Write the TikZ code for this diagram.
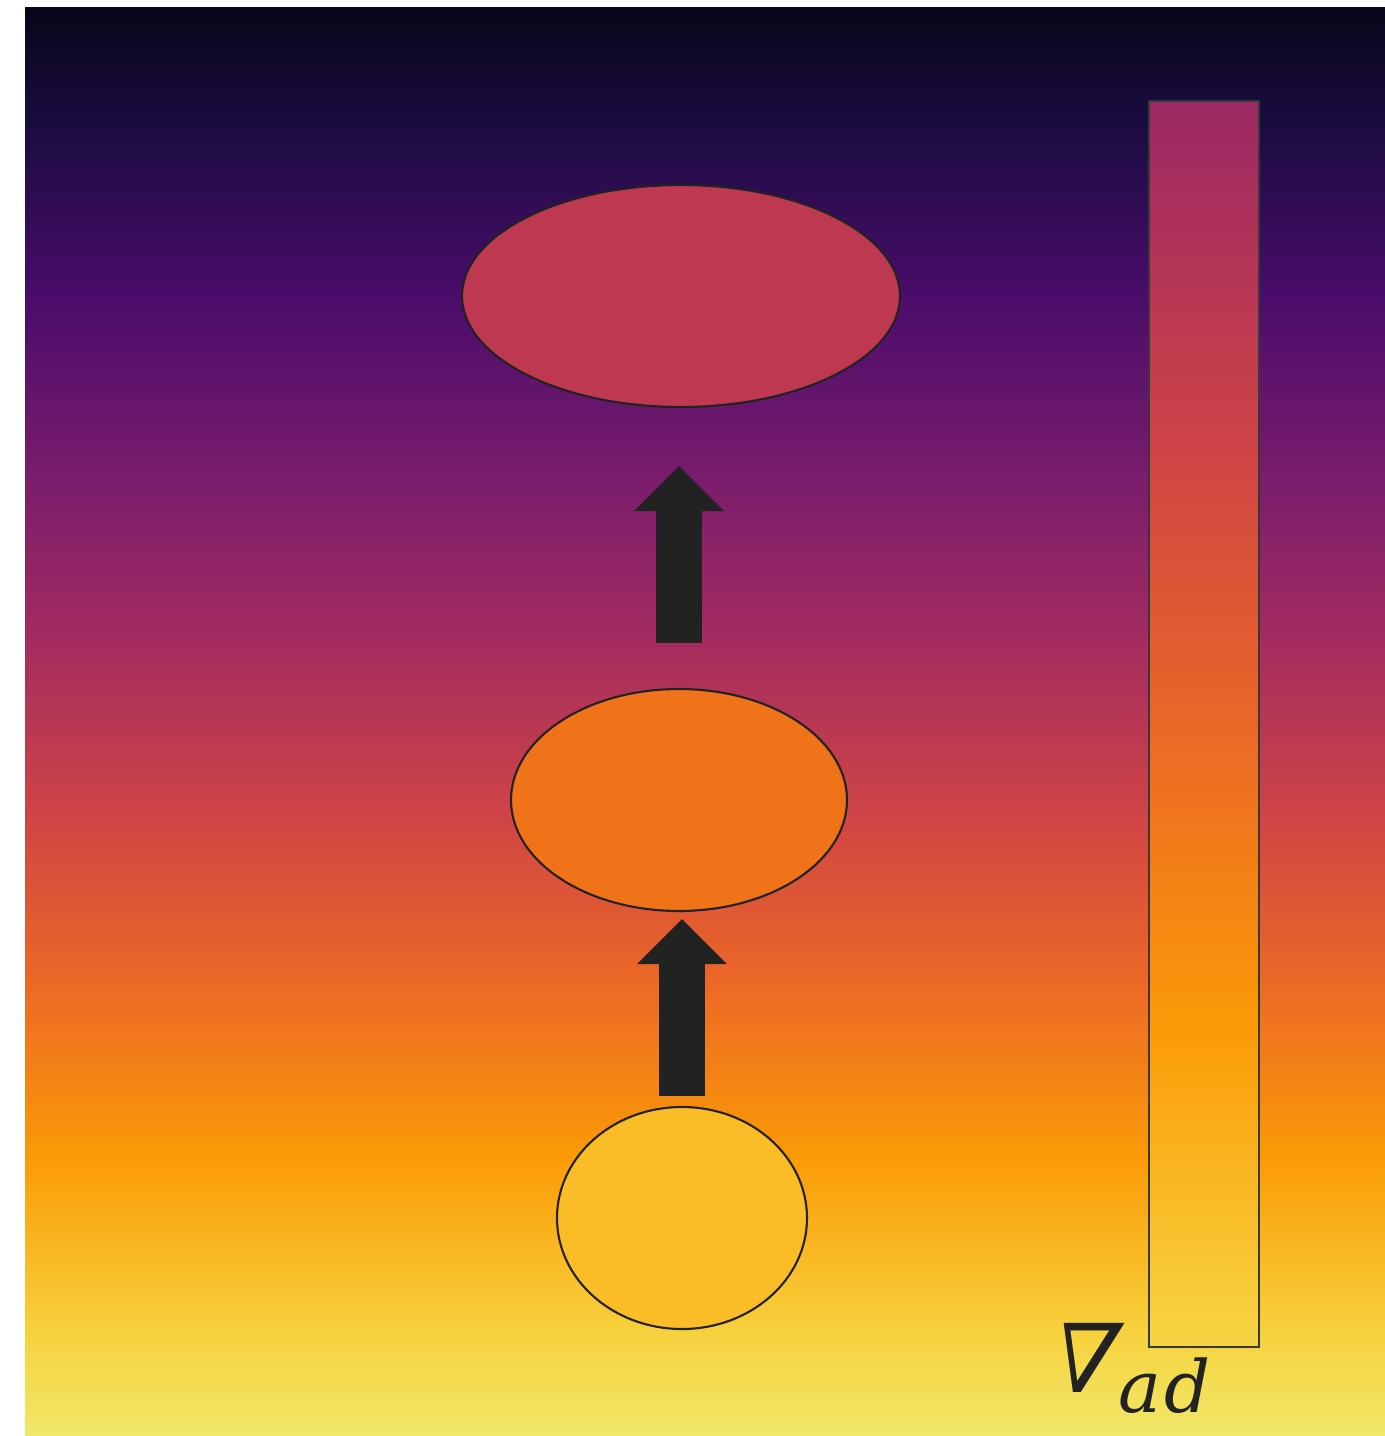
\documentclass[tikz,border=0pt]{standalone}
\usepackage{fontspec}
\usepackage{tikz}
\usetikzlibrary{arrows.meta,shapes.geometric}
\newfontfamily\labelfont{DejaVu Serif}
\newfontfamily\nablafont[FakeSlant=0.25]{DejaVu Serif}
\definecolor{inf0}{HTML}{090518}
\definecolor{inf1}{HTML}{1B0C41}
\definecolor{inf2}{HTML}{4A0C6B}
\definecolor{inf3}{HTML}{781C6D}
\definecolor{inf4}{HTML}{A52C60}
\definecolor{inf5}{HTML}{CF4446}
\definecolor{inf6}{HTML}{ED6925}
\definecolor{inf7}{HTML}{FB9B06}
\definecolor{inf8}{HTML}{F7D13D}
\definecolor{inf9}{HTML}{F0E86A}
\definecolor{bartop}{HTML}{9B2963}
\definecolor{barbot}{HTML}{F5D447}
\definecolor{hotfill}{HTML}{BE3852}
\definecolor{warmfill}{HTML}{F07219}
\definecolor{coolfill}{HTML}{FBBD27}
\definecolor{ink}{HTML}{222222}

\begin{document}
\begin{tikzpicture}[x=0.1mm,y=-0.1mm,
  blob/.style={ellipse,draw=ink,line width=0.6pt,inner sep=0pt,minimum height=22.2mm},
  rise/.style={draw=ink,line width=4.6mm,-{Triangle[width=9mm,length=4.5mm,line width=0pt]}}]
  \useasboundingbox (0,0) rectangle (1385,1436);
  \foreach \ya/\ca/\yb/\cb in {8/inf0/125/inf1,125/inf1/297/inf2,297/inf2/470/inf3,
      470/inf3/642/inf4,642/inf4/814/inf5,814/inf5/986/inf6,986/inf6/1159/inf7,
      1159/inf7/1331/inf8,1331/inf8/1436/inf9}
    \shade[top color=\ca,bottom color=\cb] (25,\ya-0.5) rectangle (1385,\yb+0.5);
  \foreach \ya/\ca/\yb/\cb in {101/bartop/163/inf4,163/inf4/453/inf5,453/inf5/742/inf6,
      742/inf6/1030/inf7,1030/inf7/1318/inf8,1318/inf8/1347/barbot}
    \shade[top color=\ca,bottom color=\cb] (1149,\ya-0.5) rectangle (1259,\yb+0.5);
  \draw[draw=ink!90,line width=0.5pt] (1149,101) rectangle (1259,1347);
  \node[blob,fill=hotfill,minimum width=43.8mm] (hot) at (681,296) {};
  \node[blob,fill=warmfill,minimum width=33.6mm] (warm) at (679,800) {};
  \node[blob,fill=coolfill,minimum width=25mm] (cool) at (682,1218) {};
  \draw[rise,shorten <=1mm,shorten >=0.7mm] (cool.north) -- (cool.north |- warm.south);
  \draw[rise,shorten <=4.5mm,shorten >=5.8mm] (warm.north) -- (warm.north |- hot.south);
  \node[anchor=base west,inner sep=0pt,text=ink] (grad) at (1044,1392)
    {\nablafont\fontsize{27}{30}\selectfont ∇\kern0.8mm\raisebox{-2mm}{\labelfont\itshape\fontsize{20.5}{22}\selectfont a\kern0.3mm d}};
\end{tikzpicture}
\end{document}
